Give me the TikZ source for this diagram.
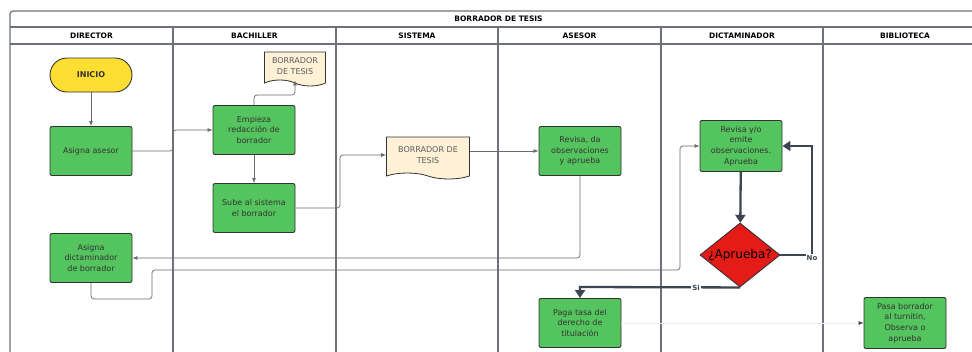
\documentclass[tikz,border=0pt]{standalone}
\usepackage{fontspec}
\setmainfont{DejaVu Sans}
\usetikzlibrary{shapes.geometric,shapes.symbols,arrows.meta}
\definecolor{lanegray}{HTML}{6E7278}
\definecolor{boxgreen}{HTML}{54C45E}
\definecolor{startyellow}{HTML}{FFDE33}
\definecolor{doccream}{HTML}{FFF1D6}
\definecolor{decred}{HTML}{E41B17}
\definecolor{flowgray}{HTML}{6A6A6A}
\definecolor{flowdark}{HTML}{3D4452}
\definecolor{txtgray}{HTML}{333333}
\tikzset{
  lanehead/.style={font=\fontsize{7.5}{9}\bfseries\selectfont, text=black},
  proc/.style={draw=txtgray, line width=.9pt, fill=boxgreen, rounded corners=2pt,
    minimum width=82, minimum height=49, align=center, text=txtgray,
    font=\fontsize{8}{10.7}\selectfont},
  startend/.style={proc, fill=startyellow, rounded corners=17pt, minimum height=34,
    font=\fontsize{8}{10}\bfseries\selectfont},
  docu/.style={draw=txtgray, line width=.8pt, fill=doccream, tape, tape bend top=none,
    tape bend bottom=out and in, tape bend height=6pt, align=center, text=txtgray!80,
    font=\fontsize{8}{10.7}\selectfont},
  decision/.style={draw=txtgray, line width=.9pt, fill=decred, diamond, inner sep=0pt,
    minimum width=80, minimum height=64},
  flow/.style={draw=flowgray, line width=.7pt, rounded corners=3pt, -{Latex[length=5pt,width=4pt]}},
  bigflow/.style={draw=flowdark, line width=2.3pt, -{Triangle[length=8pt,width=10pt]}},
  tag/.style={fill=white, inner sep=1pt, text=flowdark, font=\fontsize{7}{8}\bfseries\selectfont}
}
\begin{document}
\begin{tikzpicture}[x=1pt, y=-1pt]
\useasboundingbox (0,0) rectangle (972,351);
\clip (0,0) rectangle (972,351);
\fill[white] (0,0) rectangle (972,351);
% pool and lanes
\draw[lanegray, line width=1.2pt, rounded corners=3pt] (10,380) -- (10,11) -- (987,11) -- (987,380);
\draw[lanegray, line width=1.2pt] (10,27) -- (987,27) (10,44) -- (987,44);
\foreach \x in {173,336,498,661,823}
  \draw[lanegray, line width=1.2pt] (\x,27) -- (\x,380);
\node[lanehead] (pool) at (498.5,19) {BORRADOR DE TESIS};
\foreach \name/\x [count=\i] in {DIRECTOR/91.5, BACHILLER/254.5, SISTEMA/417, ASESOR/579.5, DICTAMINADOR/742, BIBLIOTECA/905}
  \node[lanehead] (head\i) at (\x,35.5) {\name};

% nodes
\node[startend] (inicio) at (91,75) {INICIO};
\node[proc] (asesor) at (91,151) {Asigna asesor};
\node[proc] (empieza) at (254,130) {Empieza\\redacción de\\borrador};
\node[docu, minimum width=61, minimum height=34, inner sep=1pt] (borr1) at (295,66) {BORRADOR\\DE TESIS};
\node[proc] (sube) at (254,208) {Sube al sistema\\el borrador};
\node[docu, minimum width=83, minimum height=42] (borr2) at (428,155) {BORRADOR DE\\TESIS};
\node[proc] (asigdict) at (91,258) {Asigna\\dictaminador\\de borrador};
\node[proc] (revasesor) at (580,151) {Revisa, da\\observaciones\\y aprueba};
\node[proc, minimum height=51] (revdict) at (741,146) {Revisa y/o\\emite\\observaciones.\\Aprueba};
\node[decision, label={[font=\fontsize{12}{14}\selectfont, text=black]center:¿Aprueba?}] (aprueba) at (740,255) {};
\node[proc] (paga) at (580,323) {Paga tasa del\\derecho de\\titulación};
\node[proc, minimum height=51] (pasa) at (905,323) {Pasa borrador\\al turnitin,\\Observa o\\aprueba};

% connectors
\draw[flow] (inicio) -- (asesor);
\draw[flow] (asesor.east) -- (173,151) -- (173,130) -- (empieza.west);
\draw[flow] (empieza.north) -- (254,95) -- (295,95) -- (borr1.south);
\draw[flow] (empieza) -- (sube);
\draw[flow] (sube.east) -- (340,208) -- (340,155) -- (borr2.west);
\draw[flow, rounded corners=0pt] (borr2.east |- revasesor.west) -- (revasesor.west);
\draw[flow] (revasesor.south) -- (580,258) -- (asigdict.east);
\draw[flow] (asigdict.south) -- (91,299) -- (152,299) -- (152,270) -- (680,270) -- (680,146) -- (revdict.west);
\draw[flow, draw=flowgray!12, -{Latex[length=5pt,width=4pt,color=flowdark]}] (paga.east) -- (pasa.west);
\draw[bigflow] (revdict) -- (aprueba);
\draw[bigflow] (aprueba.east) -- (812,255) -- (812,146) -- (revdict.east);
\draw[bigflow] (aprueba.south) -- (580,287) -- (paga.north);
\node[tag] (no) at (812,258) {No};
\node[tag] (si) at (696,288) {Si};
\end{tikzpicture}
\end{document}
